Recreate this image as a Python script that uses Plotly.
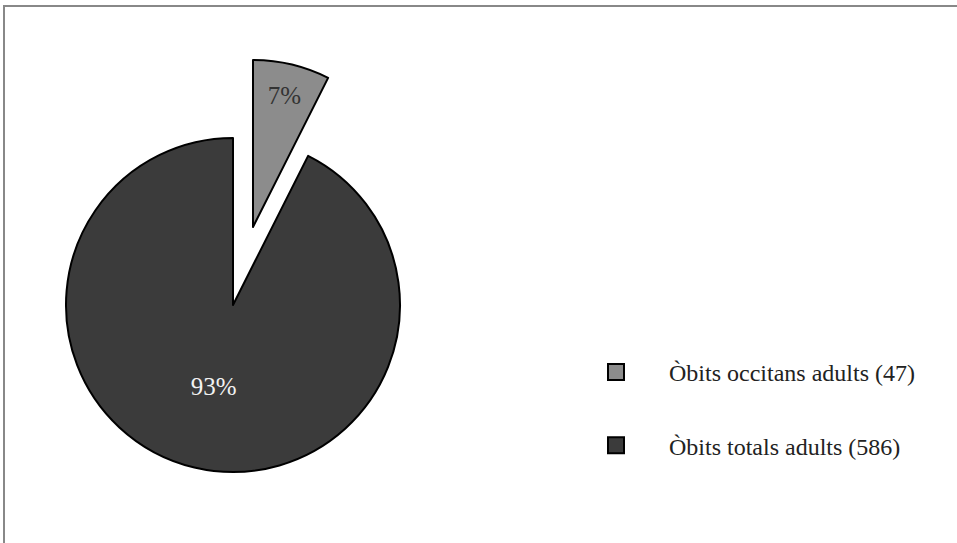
import plotly.graph_objects as go

labels = ["Òbits occitans adults (47)", "Òbits totals adults (586)"]
values = [47, 586]
colors = ["#8c8c8c", "#3b3b3b"]
text_colors = ["#333333", "#f2f2f2"]

W, H = 957, 543
FONT = "Liberation Serif"

def dom(cx, cy, r):
    return dict(x=[(cx - r) / W, (cx + r) / W], y=[1 - (cy + r) / H, 1 - (cy - r) / H])

fig = go.Figure()

# main pie (large slice only visible)
fig.add_trace(go.Pie(
    labels=labels, values=values, sort=False, direction="clockwise", rotation=0,
    marker=dict(colors=["rgba(0,0,0,0)", colors[1]], line=dict(color="black", width=[0, 2])),
    texttemplate=["", "%{percent:.0%}"], textposition="inside",
    insidetextfont=dict(family=FONT, size=25, color=text_colors),
    domain=dom(233, 305, 167), showlegend=False, hoverinfo="label+value+percent",
))
# pulled-out small slice
fig.add_trace(go.Pie(
    labels=labels, values=values, sort=False, direction="clockwise", rotation=0,
    marker=dict(colors=[colors[0], "rgba(0,0,0,0)"], line=dict(color="black", width=[2, 0])),
    texttemplate=["%{percent:.0%}", ""], textposition="inside",
    insidetextfont=dict(family=FONT, size=25, color=text_colors),
    domain=dom(253, 227, 167), showlegend=False, hoverinfo="label+value+percent",
))

# legend entries
for i, (lab, col) in enumerate(zip(labels, colors)):
    fig.add_trace(go.Scatter(
        x=[None], y=[None], mode="markers", name=lab, legendgroup=f"g{i}",
        marker=dict(symbol="square", size=16, color=col, line=dict(color="black", width=2)),
    ))

fig.update_layout(
    width=W, height=H,
    margin=dict(l=0, r=0, t=0, b=0),
    paper_bgcolor="white", plot_bgcolor="white",
    xaxis=dict(visible=False), yaxis=dict(visible=False),
    font=dict(family=FONT, size=24, color="#222222"),
    legend=dict(x=563 / W, xanchor="left", y=1 - 350 / H, yanchor="top",
                tracegroupgap=39, itemwidth=96, bgcolor="rgba(0,0,0,0)",
                font=dict(family=FONT, size=24, color="#222222")),
    shapes=[dict(type="rect", xref="paper", yref="paper",
                 x0=4 / W, x1=1.02, y0=-0.02, y1=1 - 6 / H,
                 line=dict(color="#888888", width=2), fillcolor="rgba(0,0,0,0)")],
)

fig.write_html("out.html", config={"displayModeBar": False},
               post_script="document.body.style.margin='0';")
